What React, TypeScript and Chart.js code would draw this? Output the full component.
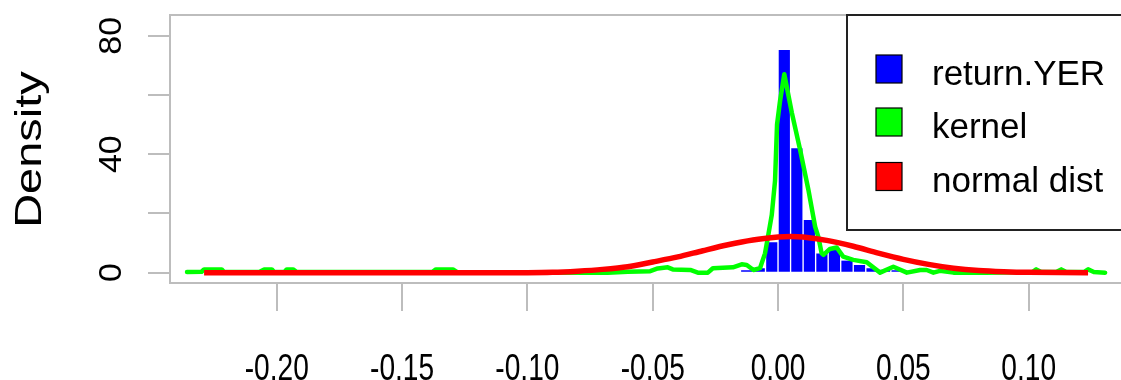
import React, { useEffect, useRef } from "react";
import { Chart, registerables } from "chart.js";

Chart.register(...registerables);

// Histogram (bin width 0.005) – bin centres and densities
const BIN_CENTERS = [-0.0125, -0.0075, -0.0025, 0.0025, 0.0075, 0.0125, 0.0175, 0.0225, 0.0275, 0.0325, 0.0375, 0.0425, 0.0475];
const BIN_DENSITY = [0.8, 1.5, 10.3, 75.2, 42.0, 17.8, 6.5, 8.2, 4.1, 2.6, 1.5, 1.0, 0.8];

// Kernel density estimate
const KERNEL_X = [
  -0.2358, -0.230, -0.229, -0.222, -0.221, -0.207, -0.205, -0.202, -0.201, -0.197, -0.196, -0.1935, -0.192,
  -0.138, -0.1365, -0.1297, -0.128, -0.077, -0.068, -0.060, -0.051, -0.048, -0.044, -0.042, -0.035, -0.032,
  -0.028, -0.026, -0.018, -0.0145, -0.0125, -0.0098, -0.0072, -0.0052, -0.0039, -0.0025, -0.0012, -0.0004,
  0.0008, 0.0025, 0.0055, 0.0088, 0.0121, 0.0148, 0.0161, 0.0174, 0.0181, 0.0207, 0.0234, 0.026, 0.030,
  0.0354, 0.0407, 0.046, 0.0514, 0.0567, 0.0593, 0.062, 0.0646, 0.070, 0.083, 0.1015, 0.103, 0.105, 0.111,
  0.113, 0.115, 0.122, 0.1237, 0.126, 0.1305,
];
const KERNEL_Y = [
  0.2, 0.3, 1.1, 1.1, 0.2, 0.2, 1.1, 1.1, 0.2, 0.2, 1.1, 1.1, 0.2,
  0.2, 1.1, 1.1, 0.2, 0, 0, 0.3, 0.5, 1.4, 1.8, 1.1, 0.9, 0,
  0, 1.5, 1.8, 2.8, 2.6, 0.9, 1.5, 6.5, 12.7, 19.5, 31, 50,
  58, 67, 54, 41.5, 28, 15.5, 12, 6.5, 6.0, 8.0, 8.5, 5.4, 4.3,
  3.5, 0, 2.0, 0, 0.9, 0.9, 0, 0.6, 0, 0, 0.2, 1.1, 0.2, 0.2,
  1.1, 0.2, 0.2, 1.1, 0.2, 0,
];

// Fitted normal distribution
const NORMAL_X = [-0.229, -0.10, -0.09, -0.08, -0.07, -0.06, -0.05, -0.04, -0.03, -0.02, -0.01, 0.0, 0.005, 0.01, 0.02, 0.03, 0.04, 0.05, 0.06, 0.07, 0.08, 0.09, 0.10, 0.1237];
const NORMAL_Y = [0, 0, 0.1, 0.5, 1.1, 2.0, 3.6, 5.3, 7.4, 9.4, 11.0, 12.0, 12.2, 12.0, 10.8, 8.9, 6.6, 4.5, 2.8, 1.5, 0.7, 0.3, 0.1, 0];

const X_TICKS = [-0.2, -0.15, -0.1, -0.05, 0, 0.05, 0.1];
const X_TICK_LABELS = ["-0.20", "-0.15", "-0.10", "-0.05", "0.00", "0.05", "0.10"];
const Y_TICKS = [0, 20, 40, 60, 80];
const Y_TICK_LABELS = ["0", "", "40", "", "80"];
const Y_TITLE = "Density";
const LEGEND_LABELS = ["return.YER", "kernel", "normal dist"];
const LEGEND_COLORS = ["#0000FF", "#00FF00", "#FF0000"];

const AXIS_GRAY = "#bdbdbd";
const FONT = "'Liberation Sans', Arial, sans-serif";

const decorPlugin = {
  id: "decor",
  beforeDatasetsDraw(chart: any) {
    const { ctx, chartArea } = chart;
    ctx.save();
    ctx.strokeStyle = AXIS_GRAY;
    ctx.lineWidth = 2;
    ctx.strokeRect(chartArea.left, chartArea.top, chartArea.right - chartArea.left, chartArea.bottom - chartArea.top);
    ctx.restore();
  },
  afterDraw(chart: any) {
    const { ctx } = chart;
    const yScale = chart.scales.y;
    const xScale = chart.scales.x;
    ctx.save();
    ctx.fillStyle = "#000";
    // x tick labels (narrow, R style)
    ctx.font = `37px ${FONT}`;
    ctx.textAlign = "center";
    ctx.textBaseline = "alphabetic";
    X_TICKS.forEach((v, i) => {
      const px = xScale.getPixelForValue(v);
      ctx.save();
      ctx.translate(px, 380);
      ctx.scale(0.76, 1);
      ctx.fillText(X_TICK_LABELS[i], 0, 0);
      ctx.restore();
    });
    // y tick labels (rotated, R style)
    ctx.font = `34px ${FONT}`;
    Y_TICKS.forEach((v, i) => {
      const lab = Y_TICK_LABELS[i];
      if (!lab) return;
      const py = yScale.getPixelForValue(v);
      ctx.save();
      ctx.translate(121, py);
      ctx.rotate(-Math.PI / 2);
      ctx.scale(1, 0.9);
      ctx.fillText(lab, 0, 0);
      ctx.restore();
    });
    // y title
    ctx.save();
    ctx.font = `47px ${FONT}`;
    ctx.translate(41, 149.5);
    ctx.rotate(-Math.PI / 2);
    ctx.scale(1, 0.8);
    ctx.fillText(Y_TITLE, 0, 0);
    ctx.restore();

    // legend
    const bx = 847, by = 15, bw = 400, bh = 215;
    ctx.fillStyle = "#fff";
    ctx.fillRect(bx, by, bw, bh);
    ctx.strokeStyle = "#222";
    ctx.lineWidth = 2;
    ctx.strokeRect(bx, by, bw, bh);
    const centers = [69, 122, 176.5];
    ctx.font = `35px ${FONT}`;
    ctx.textAlign = "left";
    ctx.textBaseline = "alphabetic";
    LEGEND_LABELS.forEach((lab, i) => {
      const cy = centers[i];
      ctx.fillStyle = LEGEND_COLORS[i];
      ctx.fillRect(876, cy - 14, 26, 28);
      ctx.strokeStyle = "#000";
      ctx.lineWidth = 1.2;
      ctx.strokeRect(876, cy - 14, 26, 28);
      ctx.fillStyle = "#000";
      ctx.fillText(lab, 932, cy + 15.5);
    });
    ctx.restore();
  },
};

export default function App() {
  const ref = useRef<HTMLCanvasElement | null>(null);
  useEffect(() => {
    document.body.style.margin = "0";
    const canvas = ref.current;
    if (!canvas) return;
    const chart = new Chart(canvas, {
      type: "bar",
      data: {
        datasets: [
          {
            type: "bar",
            label: LEGEND_LABELS[0],
            data: BIN_CENTERS.map((x, i) => ({ x, y: BIN_DENSITY[i] })),
            backgroundColor: "#0000FF",
            borderColor: "#ffffff",
            borderWidth: { left: 1, right: 1, top: 0, bottom: 0 },
            borderSkipped: false,
            barPercentage: 1,
            categoryPercentage: 1,
            order: 3,
          } as any,
          {
            type: "line",
            label: LEGEND_LABELS[1],
            data: KERNEL_X.map((x, i) => ({ x, y: KERNEL_Y[i] })),
            borderColor: "#00FF00",
            borderWidth: 4.5,
            pointRadius: 0,
            tension: 0,
            borderCapStyle: "round",
            borderJoinStyle: "round",
            fill: false,
            order: 2,
          } as any,
          {
            type: "line",
            label: LEGEND_LABELS[2],
            data: NORMAL_X.map((x, i) => ({ x, y: NORMAL_Y[i] })),
            borderColor: "#FF0000",
            borderWidth: 5.5,
            pointRadius: 0,
            tension: 0.3,
            borderCapStyle: "butt",
            fill: false,
            order: 1,
          } as any,
        ],
      },
      options: {
        responsive: false,
        animation: false,
        devicePixelRatio: 1,
        layout: { padding: { top: 15, right: 6, left: 0, bottom: 0 } },
        plugins: { legend: { display: false }, tooltip: { enabled: false } },
        scales: {
          x: {
            type: "linear",
            min: -0.2426,
            max: 0.15,
            offset: false,
            border: { display: false },
            grid: { display: true, drawOnChartArea: false, drawTicks: true, tickLength: 28, color: AXIS_GRAY, lineWidth: 2, offset: false },
            ticks: { display: false },
            afterBuildTicks: (scale: any) => {
              scale.ticks = X_TICKS.map((v) => ({ value: v }));
            },
            afterFit: (scale: any) => {
              scale.height = 97;
            },
          } as any,
          y: {
            type: "linear",
            min: -3.5,
            max: 87,
            border: { display: false },
            grid: { display: true, drawOnChartArea: false, drawTicks: true, tickLength: 22, color: AXIS_GRAY, lineWidth: 2 },
            ticks: { display: false },
            afterBuildTicks: (scale: any) => {
              scale.ticks = Y_TICKS.map((v) => ({ value: v }));
            },
            afterFit: (scale: any) => {
              scale.width = 170;
            },
          } as any,
        },
      },
      plugins: [decorPlugin],
    });
    return () => chart.destroy();
  }, []);
  return (
    <div style={{ width: 1121, height: 380, overflow: "hidden", position: "relative", background: "#fff" }}>
      <canvas ref={ref} width={1160} height={380} style={{ display: "block" }} />
    </div>
  );
}
